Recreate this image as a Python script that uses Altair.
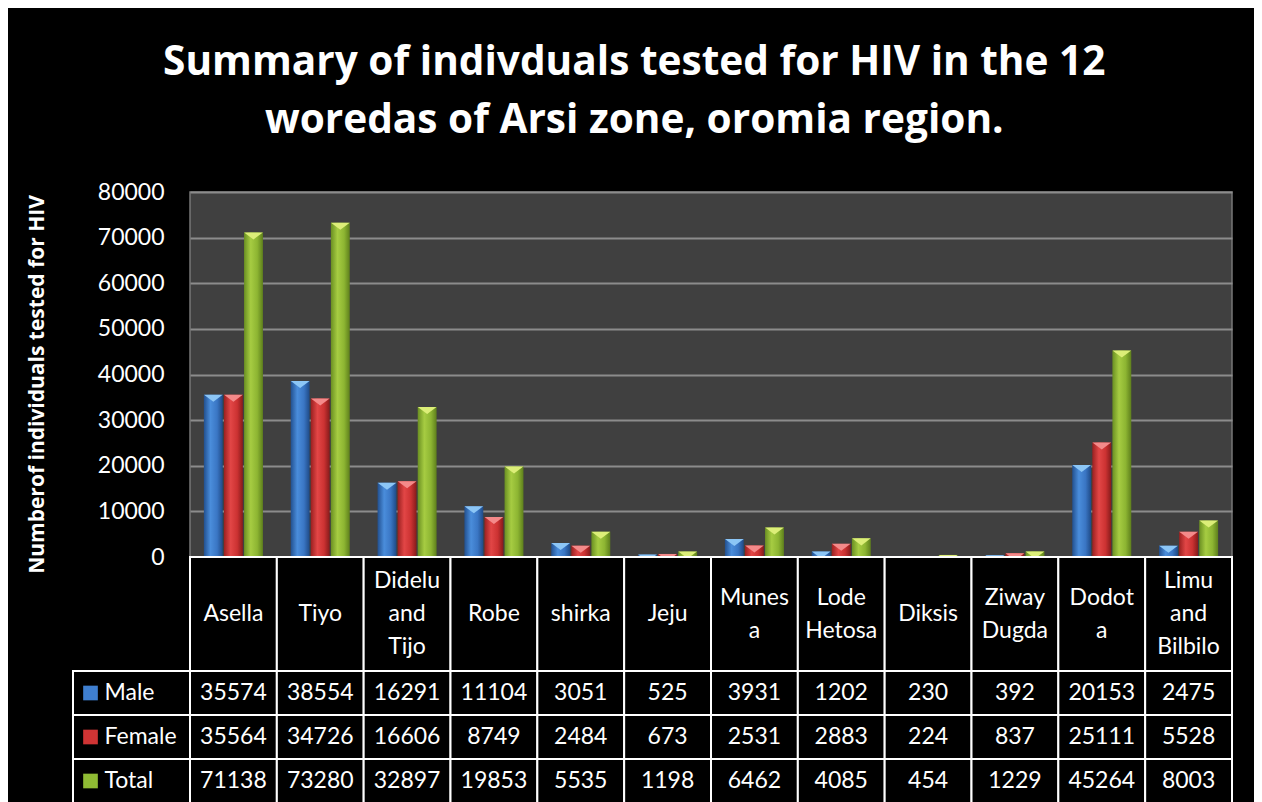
import altair as alt
import pandas as pd

# ---------------- data ----------------
districts = ["Asella", "Tiyo", "Didelu and Tijo", "Robe", "shirka", "Jeju",
             "Munesa", "Lode Hetosa", "Diksis", "Ziway Dugda", "Dodota",
             "Limu and Bilbilo"]
header_lines = [["Asella"], ["Tiyo"], ["Didelu", "and", "Tijo"], ["Robe"],
                ["shirka"], ["Jeju"], ["Munes", "a"], ["Lode", "Hetosa"],
                ["Diksis"], ["Ziway", "Dugda"], ["Dodot", "a"],
                ["Limu", "and", "Bilbilo"]]
series = ["Male", "Female", "Total"]
male = [35574, 38554, 16291, 11104, 3051, 525, 3931, 1202, 230, 392, 20153, 2475]
female = [35564, 34726, 16606, 8749, 2484, 673, 2531, 2883, 224, 837, 25111, 5528]
total = [71138, 73280, 32897, 19853, 5535, 1198, 6462, 4085, 454, 1229, 45264, 8003]
y_ticks = [0, 10000, 20000, 30000, 40000, 50000, 60000, 70000, 80000]

title_lines = ["Summary of indivduals tested for HIV  in the 12",
               "woredas of Arsi zone, oromia region."]
y_title = "Numberof individuals  tested  for  HIV"

# ---------------- tables ----------------
rows = []
for s, vals in zip(series, [male, female, total]):
    for d, v in zip(districts, vals):
        rows.append({"district": d, "series": s, "value": v})
long_df = pd.DataFrame(rows)

# one row per header text line; "line" = position of the line relative to
# the middle of the cell, in line units
hrows = []
for d, lines in zip(districts, header_lines):
    n = len(lines)
    for i, t in enumerate(lines):
        hrows.append({"district": d, "text": t, "line": i - (n - 1) / 2})
header_text_df = pd.DataFrame(hrows)
header_df = pd.DataFrame({"district": districts})
labels_df = pd.DataFrame({"series": series})

FONT = "Lato"
TFONT = "Open Sans"
key_colors = ["#3f7fd0", "#d03434", "#8fbb34"]


def grad(stops):
    return alt.LinearGradient(
        gradient="linear", x1=0, x2=1, y1=0, y2=0,
        stops=[alt.GradientStop(offset=o, color=c) for o, c in stops])


bar_fills = {
    "Male": grad([(0, "#22508f"), (0.35, "#4a8ddb"), (0.7, "#3a76c4"), (1, "#1f4a86")]),
    "Female": grad([(0, "#9a2020"), (0.35, "#e24646"), (0.7, "#cc3232"), (1, "#861b1b")]),
    "Total": grad([(0, "#6a8f22"), (0.35, "#a6cc42"), (0.7, "#8db532"), (1, "#5e7f1c")]),
}
cap_colors = {"Male": "#8cc6f6", "Female": "#f48a8a", "Total": "#dcee78"}
cap_path = "M-1,0L1,0L0,0.75Z"

# ---------------- bar chart ----------------
xs = alt.Scale(domain=districts, paddingInner=0.32, paddingOuter=0.16)
xo = alt.Scale(domain=series, paddingInner=0.06)
ys = alt.Scale(domain=[0, 80000], nice=False)
yaxis = alt.Axis(values=y_ticks, format="d", title=y_title, grid=True,
                 gridColor="#8c8c8c", gridWidth=2, domain=False, ticks=False,
                 labelFont=FONT, labelFontSize=23, labelColor="white",
                 labelPadding=26, titleFont=TFONT, titleFontSize=21,
                 titleFontWeight="bold", titleColor="white", titlePadding=50,
                 titleY=192)

layers = []
for s in series:
    base = alt.Chart(long_df).transform_filter(alt.datum.series == s)
    enc = dict(
        x=alt.X("district:N", scale=xs, axis=None, sort=districts),
        xOffset=alt.XOffset("series:N", scale=xo),
        y=alt.Y("value:Q", scale=ys, axis=yaxis),
    )
    layers.append(base.mark_bar(color=bar_fills[s]).encode(**enc))
    layers.append(base.mark_point(shape=cap_path, filled=True, size=350,
                                  opacity=1, strokeWidth=0,
                                  color=cap_colors[s]).encode(**enc))

bars = alt.layer(*layers).properties(
    width=1042, height=365,
    view=alt.ViewBackground(fill="#404040", stroke="#777777", strokeWidth=1.5))

# ---------------- table ----------------
xt = alt.Scale(domain=districts, paddingInner=0, paddingOuter=0)
yt = alt.Scale(domain=series, paddingInner=0, paddingOuter=0)
# header cell is 114 px tall, a text line is 33 px -> 114/33 line units
half_lines = 114 / 33 / 2
yl = alt.Scale(domain=[-half_lines, half_lines], reverse=True, nice=False, zero=False)
cell = dict(fill="black", stroke="white", strokeWidth=2)
txt = dict(color="white", font=FONT, fontSize=23)

header = alt.layer(
    alt.Chart(header_df).mark_rect(**cell).encode(
        x=alt.X("district:N", scale=xt, axis=None, sort=districts)),
    alt.Chart(header_text_df).mark_text(baseline="middle", **txt).encode(
        x=alt.X("district:N", scale=xt, axis=None, sort=districts),
        y=alt.Y("line:Q", scale=yl, axis=None),
        text="text:N"),
).properties(width=1042, height=114, view=alt.ViewBackground(strokeWidth=0))

values = alt.layer(
    alt.Chart(long_df).mark_rect(**cell).encode(
        x=alt.X("district:N", scale=xt, axis=None, sort=districts),
        y=alt.Y("series:N", scale=yt, axis=None, sort=series)),
    alt.Chart(long_df).mark_text(baseline="middle", **txt).encode(
        x=alt.X("district:N", scale=xt, axis=None, sort=districts),
        y=alt.Y("series:N", scale=yt, axis=None, sort=series),
        text=alt.Text("value:Q", format="d")),
).properties(width=1042, height=132, view=alt.ViewBackground(strokeWidth=0))

labels = alt.layer(
    alt.Chart(labels_df).mark_rect(**cell).encode(
        y=alt.Y("series:N", scale=yt, axis=None, sort=series)),
    alt.Chart(labels_df).mark_square(size=215, opacity=1, xOffset=-41).encode(
        y=alt.Y("series:N", scale=yt, axis=None, sort=series),
        color=alt.Color("series:N", scale=alt.Scale(domain=series, range=key_colors),
                        legend=None)),
    alt.Chart(labels_df).mark_text(align="left", dx=-27, baseline="middle", **txt).encode(
        y=alt.Y("series:N", scale=yt, axis=None, sort=series),
        text="series:N"),
).properties(width=117, height=132, view=alt.ViewBackground(strokeWidth=0))


def spacer(h):
    return alt.Chart(pd.DataFrame({"v": [0]})).mark_point(opacity=0).properties(
        width=117, height=h, view=alt.ViewBackground(strokeWidth=0))


chart = alt.concat(
    spacer(365), bars,
    spacer(114), header,
    labels, values,
    columns=2, spacing=0, bounds="flush", align="each",
).resolve_scale(
    x="independent", y="independent", color="independent"
).properties(
    title=alt.TitleParams(text=title_lines, font=TFONT, fontSize=40.6,
                          fontWeight="bold", color="white", lineHeight=58,
                          anchor="middle", frame="bounds", offset=39, dx=5),
    background="black",
    padding={"left": 17, "top": 34, "right": 21, "bottom": 0},
)

chart.save("out.html", embed_options={"renderer": "svg", "actions": False})
